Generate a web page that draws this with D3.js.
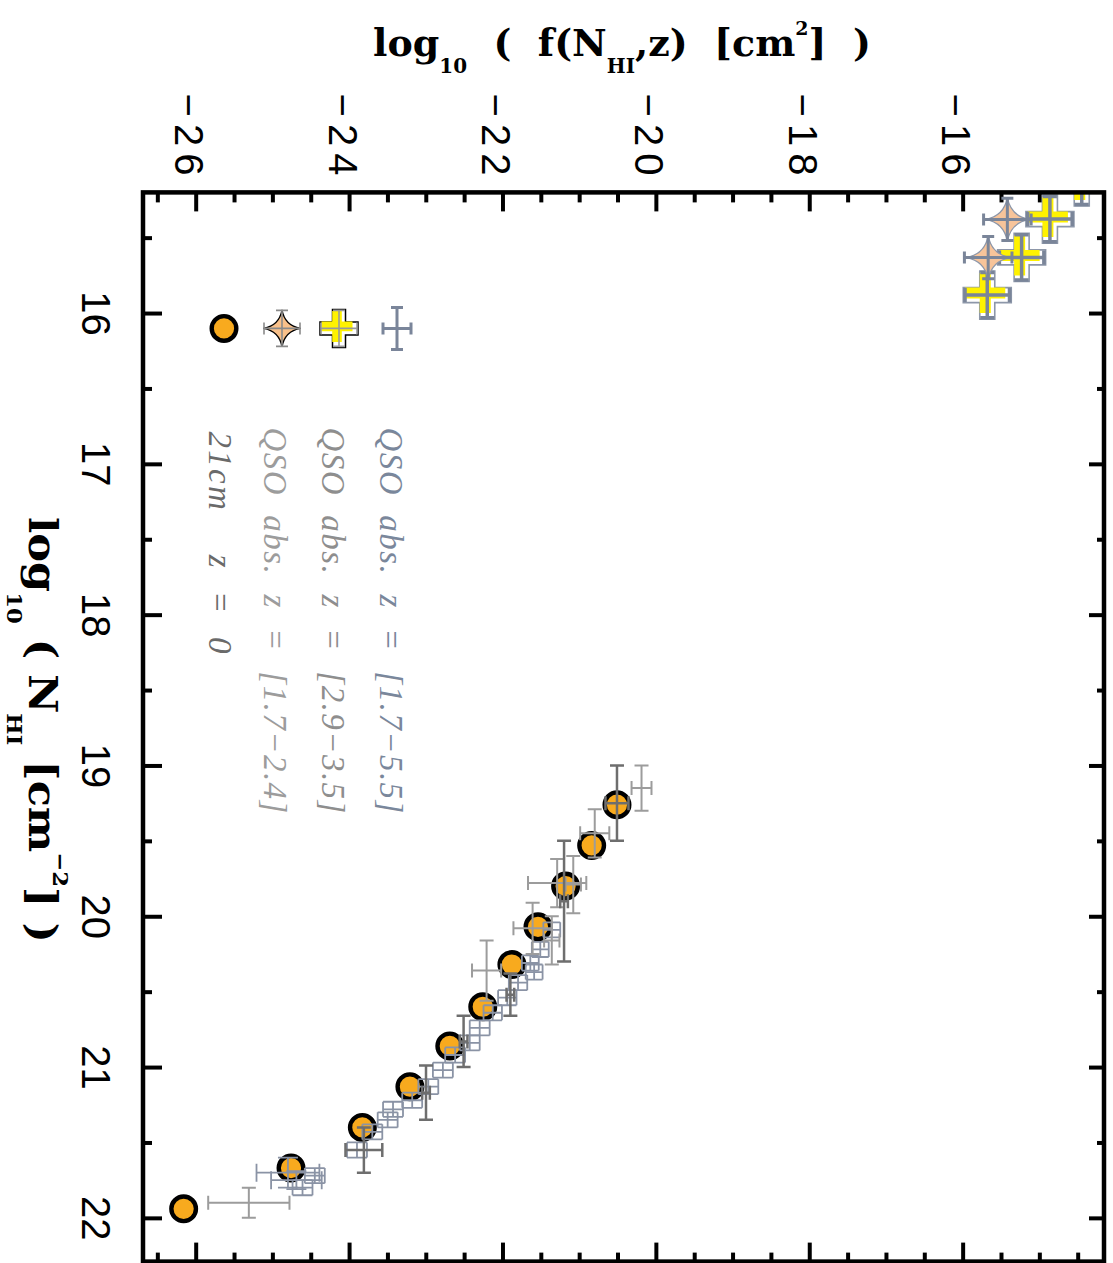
<!DOCTYPE html>
<html><head><meta charset="utf-8">
<script src="https://cdn.jsdelivr.net/npm/d3@7/dist/d3.min.js"></script>
<style>html,body{margin:0;padding:0;background:#fff;} svg{display:block}</style>
</head><body>
<svg id="chart" width="1113" height="1263"></svg>
<script>
// ---------- data ----------
const nhiMajorTicks = [16,17,18,19,20,21,22];
const nhiMinorTicks = [15.5,16.5,17.5,18.5,19.5,20.5,21.5];
const logfMajorTicks = [-26,-24,-22,-20,-18,-16];
const logfMinorTicks = [-26.5,-25.5,-25,-24.5,-23.5,-23,-22.5,-21.5,-21,-20.5,-19.5,-19,-18.5,-17.5,-17,-16.5,-15.5,-15,-14.5];

// 21cm, z = 0
const h21Nhi  = [19.26,19.53,19.80,20.07,20.32,20.60,20.86,21.13,21.40,21.67,21.94];
const h21Logf = [-20.52,-20.85,-21.19,-21.55,-21.89,-22.27,-22.70,-23.22,-23.84,-24.77,-26.17];

// QSO abs. z = [1.7-5.5] (slate small crosses)
const qsoNhi   = [20.09,20.22,20.31,20.37,20.44,20.54,20.64,20.74,20.84,20.92,21.02,21.13,21.22,21.28,21.35,21.43,21.55,21.70,21.72,21.75,21.80];
const qsoLogf  = [-21.37,-21.52,-21.65,-21.60,-21.81,-21.95,-22.14,-22.31,-22.44,-22.63,-22.79,-22.98,-23.19,-23.44,-23.51,-23.71,-23.91,-24.81,-24.46,-24.70,-24.62];
const qsoErrN  = [0.05,0.05,0.05,0.05,0.05,0.05,0.05,0.05,0.05,0.05,0.05,0.05,0.05,0.05,0.05,0.05,0.05,0.10,0.05,0.06,0.05];
const qsoErrF  = [0.11,0.11,0.11,0.11,0.12,0.12,0.12,0.13,0.13,0.13,0.13,0.13,0.13,0.13,0.13,0.13,0.13,0.41,0.13,0.33,0.13];

// darker grey error bars
const darkNhi  = [19.25,19.90,20.52,20.83,21.17,21.55];
const darkLogf = [-20.52,-21.21,-21.91,-22.52,-23.01,-23.82];
const darkErrN = [0.25,0.40,0.14,0.17,0.18,0.15];
const darkErrF = [0.15,0.05,0.05,0.05,0.05,0.24];

// lighter grey error bars
const lightNhi  = [19.15,19.45,19.78,19.79,20.08,20.16,20.36,21.90];
const lightLogf = [-20.20,-20.81,-21.30,-21.09,-21.62,-21.37,-22.22,-25.32];
const lightErrN = [0.15,0.16,0.16,0.19,0.17,0.16,0.20,0.10];
const lightErrF = [0.13,0.19,0.38,0.10,0.25,0.10,0.19,0.53];

// QSO abs. z = [2.9-3.5] (yellow crosses)
const crossNhi  = [15.131,15.377,15.631,15.881];
const crossLogf = [-14.46,-14.875,-15.244,-15.692];
const crossErrN = [0.15,0.15,0.15,0.15];
const crossErrF = [0.29,0.29,0.29,0.29];

// QSO abs. z = [1.7-2.4] (stars)
const starNhi  = [15.379,15.632];
const starLogf = [-15.43,-15.68];
const starErrN = [0.14,0.14];
const starErrF = [0.31,0.31];

const legendLabels = ["QSO  abs.  z  =  [1.7\u22125.5]", "QSO  abs.  z  =  [2.9\u22123.5]", "QSO  abs.  z  =  [1.7\u22122.4]", "21cm    z  =  0"];
const legendColors = ["#7a879b", "#8e8e8e", "#9c9c9c", "#6a6a6a"];

// ---------- layout ----------
const W = 1113, H = 1263;
const svg = d3.select('#chart');
svg.append('rect').attr('width', W).attr('height', H).attr('fill', '#fff');

// chart is drawn in its natural orientation and rotated 90deg clockwise
const g = svg.append('g').attr('transform', `translate(${W},0) rotate(90)`);

const x = d3.scaleLinear().domain([15.2, 22.29]).range([192.4, 1261.6]);   // N_HI
const y = d3.scaleLinear().domain([-26.7, -14.17]).range([970, 9]);       // log f

const X0 = x.range()[0], X1 = x.range()[1], Y0 = y.range()[0], Y1 = y.range()[1];
const sansFont = "'Liberation Sans', Arial, Helvetica, sans-serif";
const serifFont = "'DejaVu Serif', 'Liberation Serif', serif";

g.append('defs').append('clipPath').attr('id', 'plotclip')
  .append('rect').attr('x', X0).attr('y', Y1).attr('width', X1 - X0).attr('height', Y0 - Y1);

// ---------- axes ----------
function styleTicks(ax, w) {
  ax.select('.domain').remove();
  ax.selectAll('line').attr('stroke', '#000').attr('stroke-width', w);
}
const noLab = () => '';

let ax = g.append('g').attr('transform', `translate(0,${Y0})`)
  .call(d3.axisBottom(x).tickValues(nhiMajorTicks).tickSize(-19).tickPadding(0).tickFormat(d3.format('d')));
styleTicks(ax, 4);
ax.selectAll('text').attr('y', 61).attr('dy', 0).attr('font-family', sansFont).attr('font-size', 40).attr('fill', '#000');
ax = g.append('g').attr('transform', `translate(0,${Y0})`)
  .call(d3.axisBottom(x).tickValues(nhiMinorTicks).tickSize(-9).tickFormat(noLab));
styleTicks(ax, 4);
ax = g.append('g').attr('transform', `translate(0,${Y1})`)
  .call(d3.axisTop(x).tickValues(nhiMajorTicks).tickSize(-15).tickFormat(noLab));
styleTicks(ax, 4);
ax = g.append('g').attr('transform', `translate(0,${Y1})`)
  .call(d3.axisTop(x).tickValues(nhiMinorTicks).tickSize(-7).tickFormat(noLab));
styleTicks(ax, 4);

ax = g.append('g').attr('transform', `translate(${X0},0)`)
  .call(d3.axisLeft(y).tickValues(logfMajorTicks).tickSize(-19).tickPadding(0).tickFormat(d3.format('d')));
styleTicks(ax, 4);
ax.selectAll('text').attr('x', -10).attr('y', 21).attr('dy', 0).attr('font-family', sansFont)
  .attr('font-size', 40).attr('fill', '#000').style('letter-spacing', '7px');
ax = g.append('g').attr('transform', `translate(${X0},0)`)
  .call(d3.axisLeft(y).tickValues(logfMinorTicks).tickSize(-10).tickFormat(noLab));
styleTicks(ax, 4);
ax = g.append('g').attr('transform', `translate(${X1},0)`)
  .call(d3.axisRight(y).tickValues(logfMajorTicks).tickSize(-19).tickFormat(noLab));
styleTicks(ax, 4);
ax = g.append('g').attr('transform', `translate(${X1},0)`)
  .call(d3.axisRight(y).tickValues(logfMinorTicks).tickSize(-9).tickFormat(noLab));
styleTicks(ax, 4);

// ---------- marks ----------
const plot = g.append('g').attr('clip-path', 'url(#plotclip)');

function errorBars(sel, nhi, logf, eN, eF, color, width, cap, boxCaps) {
  const grp = sel.append('g').attr('stroke', color).attr('stroke-width', width).attr('fill', 'none');
  nhi.forEach((n, i) => {
    const f = logf[i];
    const cx = x(n), cy = y(f);
    const xa = x(n - eN[i]), xb = x(n + eN[i]);
    const ya = y(f - eF[i]), yb = y(f + eF[i]);
    const capN = boxCaps ? Math.min(Math.abs(ya - yb) / 2, 10) : cap;
    const capF = boxCaps ? Math.min(Math.abs(xb - xa) / 2, 9) : cap;
    const p = d3.path();
    p.moveTo(xa, cy); p.lineTo(xb, cy);
    p.moveTo(xa, cy - capN); p.lineTo(xa, cy + capN);
    p.moveTo(xb, cy - capN); p.lineTo(xb, cy + capN);
    p.moveTo(cx, ya); p.lineTo(cx, yb);
    p.moveTo(cx - capF, ya); p.lineTo(cx + capF, ya);
    p.moveTo(cx - capF, yb); p.lineTo(cx + capF, yb);
    grp.append('path').attr('d', p.toString());
  });
}
function plusPath(L, w) {
  return `M${-w},${-L}H${w}V${-w}H${L}V${w}H${w}V${L}H${-w}V${w}H${-L}V${-w}H${-w}Z`;
}
function starPath(R) {
  const c = R * 0.15;
  return `M${R},0Q${c},${c} 0,${R}Q${-c},${c} ${-R},0Q${-c},${-c} 0,${-R}Q${c},${-c} ${R},0Z`;
}

// 21cm circles
plot.append('g').selectAll('circle').data(h21Nhi).join('circle')
  .attr('cx', d => x(d)).attr('cy', (d, i) => y(h21Logf[i])).attr('r', 12.3)
  .attr('fill', '#f8aa1e').attr('stroke', '#000').attr('stroke-width', 4.4);

errorBars(plot, qsoNhi, qsoLogf, qsoErrN, qsoErrF, '#8a93a5', 1.8, 0, true);
errorBars(plot, lightNhi, lightLogf, lightErrN, lightErrF, '#9c9c9c', 2, 7, false);
errorBars(plot, darkNhi, darkLogf, darkErrN, darkErrF, '#6e6e6e', 2.5, 7, false);

// yellow crosses
const cg = plot.append('g');
crossNhi.forEach((n, i) => {
  const cx = x(n), cy = y(crossLogf[i]);
  cg.append('path').attr('d', plusPath(24, 7.5)).attr('transform', `translate(${cx},${cy})`)
    .attr('fill', '#fff').attr('stroke', '#8d97a9').attr('stroke-width', 1.6);
  cg.append('path').attr('d', plusPath(20, 5.5)).attr('transform', `translate(${cx - 2},${cy + 2})`)
    .attr('fill', '#fff200');
});
errorBars(cg, crossNhi, crossLogf, crossErrN, crossErrF, '#7a8599', 3.5, 7, false);

// stars
const sg = plot.append('g');
starNhi.forEach((n, i) => {
  sg.append('path').attr('d', starPath(22)).attr('transform', `translate(${x(n)},${y(starLogf[i])})`)
    .attr('fill', '#f7c49a').attr('stroke', '#8d97a9').attr('stroke-width', 1.3);
});
errorBars(sg, starNhi, starLogf, starErrN, starErrF, '#7a8599', 3, 6, false);

// frame
g.append('rect').attr('x', X0).attr('y', Y1).attr('width', X1 - X0).attr('height', Y0 - Y1)
  .attr('fill', 'none').attr('stroke', '#000').attr('stroke-width', 4.5);

// ---------- legend ----------
const lgX = X0 + 136;                 // symbol column
const lgTextX = X0 + 235;             // text start
const lgRows = [Y1 + 707, Y1 + 765, Y1 + 822, Y1 + 880];   // symbol centres
const lgBase = [Y1 + 724, Y1 + 782, Y1 + 840, Y1 + 895];   // text baselines
const lgLen = [386, 386, 386, 222];
const lg = g.append('g');
function legendBars(cx, cy, hx, hy, cap, color, width) {
  const p = d3.path();
  p.moveTo(cx - hx, cy); p.lineTo(cx + hx, cy);
  p.moveTo(cx - hx, cy - cap); p.lineTo(cx - hx, cy + cap);
  p.moveTo(cx + hx, cy - cap); p.lineTo(cx + hx, cy + cap);
  p.moveTo(cx, cy - hy); p.lineTo(cx, cy + hy);
  p.moveTo(cx - cap, cy - hy); p.lineTo(cx + cap, cy - hy);
  p.moveTo(cx - cap, cy + hy); p.lineTo(cx + cap, cy + hy);
  lg.append('path').attr('d', p.toString()).attr('stroke', color).attr('stroke-width', width).attr('fill', 'none');
}
// slate error cross
legendBars(lgX, lgRows[0], 21, 14, 6, '#7a859a', 3);
// yellow cross
lg.append('path').attr('d', plusPath(19, 6.5)).attr('transform', `translate(${lgX},${lgRows[1]})`)
  .attr('fill', '#fff').attr('stroke', '#000').attr('stroke-width', 1.5);
lg.append('path').attr('d', plusPath(15.5, 4.8)).attr('transform', `translate(${lgX - 2},${lgRows[1] + 2})`)
  .attr('fill', '#fff200');
legendBars(lgX, lgRows[1], 18, 18, 6, '#999', 1.6);
// star
lg.append('path').attr('d', starPath(18.5)).attr('transform', `translate(${lgX},${lgRows[2]})`)
  .attr('fill', '#f8c08a').attr('stroke', '#000').attr('stroke-width', 1.3);
legendBars(lgX, lgRows[2], 18, 18, 6, '#8a8a8a', 1.6);
// circle
lg.append('circle').attr('cx', lgX).attr('cy', lgRows[3]).attr('r', 12.3)
  .attr('fill', '#f8aa1e').attr('stroke', '#000').attr('stroke-width', 4.4);

legendLabels.forEach((t, i) => {
  lg.append('text').attr('x', lgTextX + (i === 3 ? 4 : 0)).attr('y', lgBase[i])
    .attr('font-family', "'Liberation Serif', 'DejaVu Serif', serif").attr('font-style', 'italic')
    .attr('font-size', 33).attr('fill', legendColors[i])
    .attr('textLength', lgLen[i]).attr('lengthAdjust', 'spacing')
    .style('white-space', 'pre').text(t);
});

// ---------- titles ----------
function fitWidth(textSel, x0, x1) {
  const bb = textSel.node().getBBox();
  const s = (x1 - x0) / bb.width;
  textSel.attr('transform', `translate(${x0},0) scale(${s},1) translate(${-bb.x},0)`);
}
function addParts(t, parts) {
  parts.forEach(p => {
    t.append('tspan').attr('font-size', p.fs).attr('dy', p.dy || 0).text(p.s);
  });
}
// N_HI title (inside rotated group, horizontal in chart frame)
const xt = g.append('text').attr('x', 0).attr('y', 1084)
  .attr('font-family', serifFont).attr('font-weight', 'bold').attr('fill', '#000').style('white-space', 'pre');
addParts(xt, [
  {s: 'log', fs: 40}, {s: '10', fs: 21, dy: 22}, {s: ' ( N', fs: 40, dy: -22},
  {s: 'HI', fs: 21, dy: 22}, {s: ' [cm', fs: 40, dy: -22}, {s: '\u22122', fs: 21, dy: -24},
  {s: '] )', fs: 40, dy: 24}
]);
fitWidth(xt, 517, 943);

// f title (screen coordinates, horizontal at top)
const yt = svg.append('text').attr('x', 0).attr('y', 56)
  .attr('font-family', serifFont).attr('font-weight', 'bold').attr('fill', '#000').style('white-space', 'pre');
addParts(yt, [
  {s: 'log', fs: 38}, {s: '10', fs: 20, dy: 17}, {s: '  (  f(N', fs: 38, dy: -17},
  {s: 'HI', fs: 20, dy: 17}, {s: ',z)  [cm', fs: 38, dy: -17}, {s: '2', fs: 19, dy: -21},
  {s: ']  )', fs: 38, dy: 21}
]);
fitWidth(yt, 373, 871);
</script>
</body></html>
